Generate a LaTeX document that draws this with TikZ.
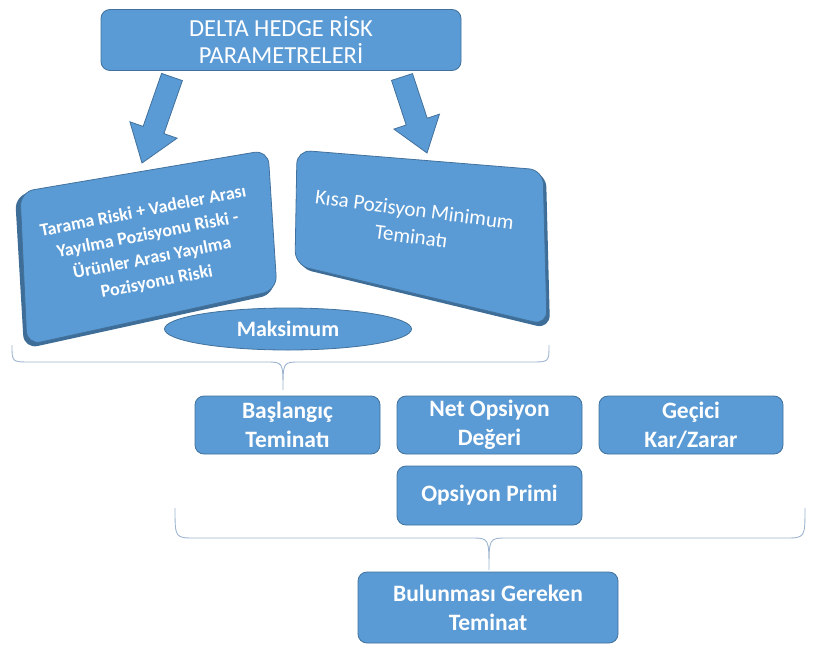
\documentclass[tikz,border=0pt]{standalone}
\usepackage{fontspec}
\setmainfont{Carlito}
\usetikzlibrary{shapes.geometric}
\definecolor{boxfill}{HTML}{5B9BD5}
\definecolor{boxline}{HTML}{41719C}
\definecolor{boxshadow}{HTML}{3E6D98}
\definecolor{bracecol}{HTML}{9DB5D0}
\tikzset{
  blue box/.style={rectangle, rounded corners=9pt, fill=boxfill, draw=boxline, line width=0.8pt,
    text=white, align=center, font=\fontsize{23.5}{29}\selectfont\bfseries},
  block arrow/.style={fill=boxfill, draw=boxline, line width=0.8pt},
  brace line/.style={draw=bracecol, line width=0.9pt},
  tilt box/.style={fill=boxfill, draw=boxline, line width=0.8pt, rounded corners=14pt},
  tilt shadow/.style={fill=boxshadow, rounded corners=14pt},
}
\begin{document}
\begin{tikzpicture}[x=1pt,y=-1pt]
\useasboundingbox (0,0) rectangle (813,653);
% top box
\node[blue box, minimum width=360pt, minimum height=61pt, font=\fontsize{24.5}{27}\selectfont]
  (top) at (281,40) {DELTA HEDGE RİSK\\PARAMETRELERİ};
% block arrows
\filldraw[block arrow] (161.6,73.4) -- (182.4,80.6) -- (163.9,133.6) -- (177.1,138.2)
  -- (142,163) coordinate (tipL) -- (129.9,121.8) -- (143.1,126.4) -- cycle;
\filldraw[block arrow] (412.5,73.6) -- (427.2,118.2) -- (439.5,114.1) -- (427,153) coordinate (tipR)
  -- (393.9,129.1) -- (406.2,125.0) -- (391.5,80.4) -- cycle;
% tilted boxes
\fill[tilt shadow] (15,195) -- (265,152) -- (275,294) -- (24,349) -- cycle;
\filldraw[tilt box] (20,192) -- (268,150) -- (277,290) -- (27,345) -- cycle;
\fill[tilt shadow] (300,153) -- (546,173) -- (550,329) -- (298,268) -- cycle;
\filldraw[tilt box] (297,150) -- (543,170) -- (547,325) -- (295,265) -- cycle;
\node[text=white, align=center, rotate=11, font=\fontsize{18}{24}\selectfont\bfseries]
  (riskL) at (150,247) {Tarama Riski + Vadeler Arası\\Yayılma Pozisyonu Riski -\\Ürünler Arası Yayılma\\Pozisyonu Riski};
\node[text=white, align=center, rotate=-7.5, font=\fontsize{21}{27}\selectfont]
  (riskR) at (413,223) {Kısa Pozisyon Minimum\\Teminatı};
% ellipse
\node[ellipse, fill=boxfill, draw=boxline, line width=0.8pt, minimum width=247pt, minimum height=42pt,
  inner sep=0pt, text=white, font=\fontsize{22}{26}\selectfont\bfseries] (maks) at (288,329) {Maksimum};
% brace 1
\coordinate (br1L) at (12,345);
\coordinate (br1R) at (549,345);
\coordinate (br1T) at (283,390);
\draw[brace line] (br1L) .. controls (12,362) .. (30,362) -- (266,362)
  .. controls (283,362) .. (br1T) .. controls (283,362) .. (300,362) -- (531,362)
  .. controls (549,362) .. (br1R);
% middle boxes
\node[blue box, minimum width=185pt, minimum height=58pt] (b1) at (287.5,425) {Başlangıç\\Teminatı};
\node[blue box, minimum width=185pt, minimum height=58pt] (b2) at (489.5,425) {Net Opsiyon\\Değeri};
\node[blue box, minimum width=184pt, minimum height=58pt] (b3) at (691,425) {Geçici\\Kar/Zarar};
\node[blue box, minimum width=185pt, minimum height=59pt] (b4) at (489.5,495.5) {Opsiyon Primi};
% brace 2
\coordinate (br2L) at (175,508);
\coordinate (br2R) at (805,508);
\coordinate (br2T) at (489,570);
\draw[brace line] (br2L) .. controls (175,538) .. (195,538) -- (471,538)
  .. controls (489,538) .. (br2T) .. controls (489,538) .. (507,538) -- (785,538)
  .. controls (805,538) .. (br2R);
% bottom box
\node[blue box, minimum width=260pt, minimum height=71pt] (b5) at (488,607.5) {Bulunması Gereken\\Teminat};
\end{tikzpicture}
\end{document}
